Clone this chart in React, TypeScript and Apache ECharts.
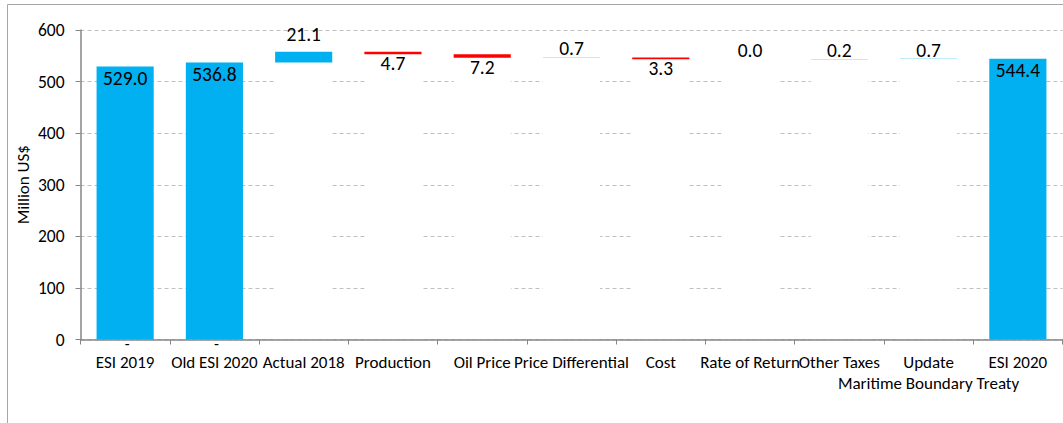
import React, { useEffect, useRef } from "react";
import * as echarts from "echarts";

// Categories along the x axis
const categories: string[] = [
  "ESI 2019",
  "Old ESI 2020",
  "Actual 2018",
  "Production",
  "Oil Price",
  "Price Differential",
  "Cost",
  "Rate of Return",
  "Other Taxes",
  "Update\nMaritime Boundary Treaty",
  "ESI 2020",
];

// Totals drawn as full columns (null = step category)
const totals: (number | null)[] = [529.0, 536.8, null, null, null, null, null, null, null, null, 544.4];

// Signed changes for the step categories (null = total column)
const changes: (number | null)[] = [null, null, 21.1, -4.7, -7.2, 0.7, -3.3, 0.0, 0.2, 0.7, null];

// Y axis ticks
const yMin = 0;
const yMax = 600;
const yStep = 100;

const FONT = "Calibri, Carlito, Lato, 'Liberation Sans', sans-serif";
const BLUE = "#00B0F0";
const RED = "#FF0000";

function buildWaterfall() {
  const base: number[] = [];
  const up: (number | string)[] = [];
  const down: (number | string)[] = [];
  let running = 0;
  categories.forEach((_, i) => {
    const t = totals[i];
    const c = changes[i];
    if (t !== null) {
      running = t;
      base.push(0);
      up.push("-");
      down.push("-");
    } else if (c !== null) {
      if (c >= 0) {
        base.push(running);
        up.push(c);
        down.push("-");
        running = running + c;
      } else {
        running = running + c;
        base.push(running);
        up.push("-");
        down.push(-c);
      }
    }
  });
  return { base, up, down };
}

export default function App() {
  const ref = useRef<HTMLDivElement>(null);

  useEffect(() => {
    if (!ref.current) return;
    const chart = echarts.init(ref.current, undefined, { renderer: "svg" });
    const { base, up, down } = buildWaterfall();

    const valueLabel = {
      show: true,
      color: "#000000",
      fontSize: 19.5,
      fontFamily: FONT,
      formatter: (p: any) => Number(p.value).toFixed(1),
    };

    const option: any = {
      animation: false,
      backgroundColor: "#ffffff",
      textStyle: { fontFamily: FONT },
      graphic: [
        {
          type: "polyline",
          shape: { points: [[7.5, 423], [7.5, 4.5], [1063, 4.5]] },
          style: { stroke: "#a6a6a6", lineWidth: 1, fill: "none" },
          silent: true,
        },
      ],
      grid: { left: 80.5, right: 0.5, top: 30, bottom: 83.5, containLabel: false },
      xAxis: {
        type: "category",
        data: categories,
        z: 5,
        axisLine: { lineStyle: { color: "#868686", width: 1.5 } },
        axisTick: { show: true, length: 5, lineStyle: { color: "#868686" }, alignWithLabel: false },
        axisLabel: {
          interval: 0,
          color: "#000000",
          fontSize: 17,
          fontFamily: FONT,
          margin: 12,
          lineHeight: 21,
        },
      },
      yAxis: {
        type: "value",
        min: yMin,
        max: yMax,
        interval: yStep,
        name: "Million US$",
        nameLocation: "middle",
        nameGap: 49,
        nameMoveOverlap: false,
        nameTextStyle: { color: "#000000", fontSize: 17, fontFamily: FONT },
        axisLine: { show: true, lineStyle: { color: "#868686", width: 1.5 } },
        axisTick: { show: true, length: 5, lineStyle: { color: "#868686" } },
        axisLabel: { color: "#000000", fontSize: 17.5, fontFamily: FONT, margin: 16 },
        splitLine: { lineStyle: { color: "#bfbfbf", type: [4, 3], width: 1 } },
      },
      series: [
        {
          name: "base",
          type: "bar",
          stack: "w",
          barWidth: "64%",
          itemStyle: { color: "#ffffff" },
          label: {
            show: true,
            position: "inside",
            offset: [2, 4],
            color: "#000000",
            fontSize: 16,
            fontFamily: FONT,
            formatter: (p: any) => (p.dataIndex < 2 ? "-" : ""),
          },
          data: base,
          silent: true,
        },
        {
          name: "total",
          type: "bar",
          stack: "w",
          barWidth: "64%",
          itemStyle: { color: BLUE },
          label: { ...valueLabel, position: "insideTop", distance: 1 },
          data: totals.map((v) => (v === null ? "-" : v)),
        },
        {
          name: "increase",
          type: "bar",
          stack: "w",
          barWidth: "64%",
          itemStyle: { color: BLUE },
          label: { ...valueLabel, position: "top", distance: -1 },
          data: up.map((v, i) =>
            i === 2 && v !== "-" ? { value: v, label: { distance: 8 } } : v
          ),
        },
        {
          name: "decrease",
          type: "bar",
          stack: "w",
          barWidth: "64%",
          itemStyle: { color: RED },
          label: { ...valueLabel, position: "bottom", distance: -1 },
          data: down,
        },
      ],
    };

    chart.setOption(option);
    return () => chart.dispose();
  }, []);

  return (
    <div
      ref={ref}
      style={{ position: "absolute", left: 0, top: 0, width: 1063, height: 423 }}
    />
  );
}
